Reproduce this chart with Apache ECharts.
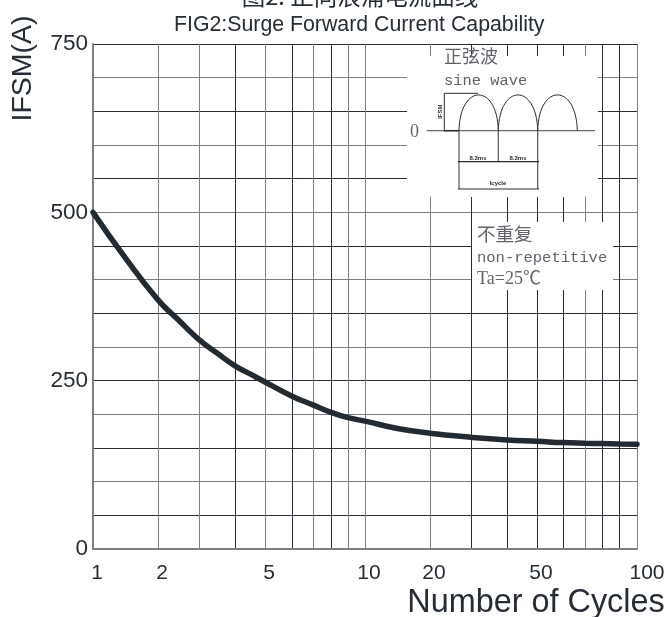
<!DOCTYPE html>
<html>
<head>
<meta charset="utf-8">
<style>html,body{margin:0;padding:0;background:#fff}#c{width:669px;height:617px}</style>
<script src="https://cdn.jsdelivr.net/npm/echarts@6/dist/echarts.min.js"></script>
</head>
<body>
<div id="c"></div>
<script>
// Cycle counts of the printed graph paper
const gridCycles = [1,2,3,4,5,6,7,8,9,10,20,30,40,50,60,70,80,90,100];
// The printed x scale is irregular: where each cycle count sits along the axis (0..544)
const xScalePosition = [0,65,106,142,172,199,220,238,255,272,337,378,414,444,470,492,509,526,544];
// Surge current
const curveCycles = [1,1.5,2,2.5,3,3.5,4,4.5,5,6,7,8,9,10,15,20,30,40,50,60,70,80,90,100];
const surgeCurrent = [500,432,370,340,311,291,272,260,248,227,214,203,195,190,179,172,166,162,160,158,157,156.5,156,155.5];
const xTickLabels = [1,2,5,10,20,50,100];
const yTickLabels = [0,250,500,750];

const INK = '#262d35', GREY = '#60646a', LINE = '#7c7f84', SERIF = '"Liberation Serif","Noto Sans CJK SC",serif', MONO = '"Liberation Mono",monospace', CJK = '"Noto Sans CJK SC",sans-serif';
// Axis position of a cycle count: exact at the printed lines, proportional between them
const posOf = c => {
  let i = gridCycles.findIndex(g => g >= c);
  if (gridCycles[i] === c) return xScalePosition[i];
  const t = (c - gridCycles[i - 1]) / (gridCycles[i] - gridCycles[i - 1]);
  return xScalePosition[i - 1] + t * (xScalePosition[i] - xScalePosition[i - 1]);
};
const labelAt = {};
xTickLabels.forEach(c => { labelAt[posOf(c)] = c; });

const text = (x, y, t, font, size, extra) => ({
  type: 'text', x, y, z: 20, silent: true,
  style: Object.assign({ text: t, fontFamily: font, fontSize: size, fill: GREY, verticalAlign: 'middle' }, extra || {})
});
const stroke = (shape, type, w, c) => ({ type, shape, z: 15, silent: true, style: { stroke: c || INK, lineWidth: w || 1, fill: 'none' } });
const seg = (x1, y1, x2, y2, w, c) => stroke({ x1, y1, x2, y2 }, 'line', w, c);
const arc = (a, b) => stroke({ x1: a, y1: 130.7, cpx1: a + 1, cpy1: 83, cpx2: b - 1, cpy2: 83, x2: b, y2: 130.7 }, 'bezierCurve', 1, INK);
const rect = (x, y, width, height) => ({ type: 'rect', shape: { x, y, width, height }, z: 10, silent: true, style: { fill: '#fff' } });

const chart = echarts.init(document.getElementById('c'), null, { renderer: 'canvas' });
chart.setOption({
  animation: false,
  backgroundColor: '#fff',
  textStyle: { fontFamily: '"Liberation Sans",Arial,sans-serif', color: INK },
  title: {
    text: 'FIG2:Surge Forward Current Capability',
    left: 174, top: 15, padding: 0, itemGap: 0,
    textStyle: { fontSize: 21.3, fontWeight: 'normal', color: INK, fontFamily: '"Liberation Sans",Arial,sans-serif' }
  },
  grid: { left: 93, right: 32, top: 44, bottom: 68, containLabel: false, outerBoundsMode: 'none' },
  xAxis: {
    type: 'value', min: 0, max: 544,
    name: 'Number of Cycles', nameLocation: 'middle', nameGap: 38, nameMoveOverlap: false,
    nameTextStyle: { fontSize: 32.4, color: INK, padding: [0, 0, 0, 342], lineHeight: 32 },
    axisLine: { show: true, onZero: false, lineStyle: { color: LINE, width: 2 } },
    axisTick: { show: false, customValues: xScalePosition },
    splitLine: { show: true, lineStyle: { width: 1, color: [LINE,LINE,LINE,INK,LINE,INK,LINE,INK,LINE,LINE,LINE,INK,INK,INK,INK,LINE,INK,INK,LINE] } },
    axisLabel: {
      customValues: xTickLabels.map(posOf), margin: 14, hideOverlap: false, showMinLabel: true, showMaxLabel: true,
      formatter: v => { const c = labelAt[v]; return c === 100 ? `{e|${c}}` : `{n|${c}}`; },
      rich: {
        n: { fontSize: 21, color: INK, padding: [0, 0, 0, 8] },
        e: { fontSize: 21, color: INK, padding: [0, 0, 0, 20] }
      }
    }
  },
  yAxis: {
    type: 'value', min: 0, max: 750, interval: 50,
    name: 'IFSM(A)', nameLocation: 'middle', nameGap: 55, nameRotate: 90, nameMoveOverlap: false,
    nameTextStyle: { fontSize: 28.5, color: INK, padding: [0, 0, 0, 456] },
    axisLine: { show: true, lineStyle: { color: LINE, width: 2 } },
    axisTick: { show: false },
    splitLine: { show: true, lineStyle: { width: 1, color: [LINE, INK, LINE, INK] } },
    axisLabel: {
      fontSize: 22.5, color: INK, margin: 5, hideOverlap: false,
      formatter: v => yTickLabels.includes(v) ? String(v) : ''
    }
  },
  series: [{
    type: 'line', name: 'IFSM', showSymbol: false, clip: false, z: 30,
    smooth: 0.5,
    lineStyle: { color: '#222a32', width: 5.5, cap: 'round' },
    data: curveCycles.map((c, i) => [posOf(c), surgeCurrent[i]])
  }],
  graphic: { elements: [
    // Chinese title, cut off by the top edge as in the source
    { type: 'text', x: 360, y: -4, z: 20, silent: true, style: { text: '图2: 正向浪涌电流曲线', fontFamily: CJK, fontSize: 23.5, fill: INK, align: 'center', verticalAlign: 'middle' } },
    rect(407, 56, 191, 141),
    rect(472, 222, 141, 68),
    text(444, 56, '正弦波', CJK, 18),
    text(444, 80.5, 'sine wave', MONO, 15.4),
    text(410, 132.5, '0', SERIF, 18),
    seg(426.7, 130.7, 595, 130.7, 1.3, '#666a70'),
    arc(459, 498.3), arc(498.3, 537.7), arc(537.7, 577.3),
    seg(444.3, 93.3, 444.3, 130.7), seg(444.3, 93.3, 478, 93.3), seg(444.3, 130.7, 459, 130.7, 1.5),
    seg(459, 130.7, 459, 189, 1.2, '#50555b'), seg(498.3, 130.7, 498.3, 161.7, 1.2, '#50555b'), seg(537.7, 130.7, 537.7, 189, 1.2, '#50555b'),
    seg(458, 161.7, 539, 161.7, 1.2), seg(458, 189, 539, 189, 1.2),
    { type: 'text', x: 440.7, y: 111.7, rotation: Math.PI / 2, z: 20, silent: true, style: { text: 'IFSM', fontSize: 6, fontWeight: 'bold', fill: INK, fontFamily: '"Liberation Sans",sans-serif', align: 'center', verticalAlign: 'middle' } },
    text(478, 158, '8.3ms', '"Liberation Sans",sans-serif', 6, { fontWeight: 'bold', fill: INK, align: 'center' }),
    text(518, 158, '8.3ms', '"Liberation Sans",sans-serif', 6, { fontWeight: 'bold', fill: INK, align: 'center' }),
    text(498, 183.7, 'Icycle', '"Liberation Sans",sans-serif', 6, { fontWeight: 'bold', fill: INK, align: 'center' }),
    text(477, 234, '不重复', CJK, 18.5),
    text(477, 257.5, 'non-repetitive', MONO, 15.5),
    text(477, 279.5, 'Ta=25℃', SERIF, 18)
  ] }
});
</script>
</body>
</html>
